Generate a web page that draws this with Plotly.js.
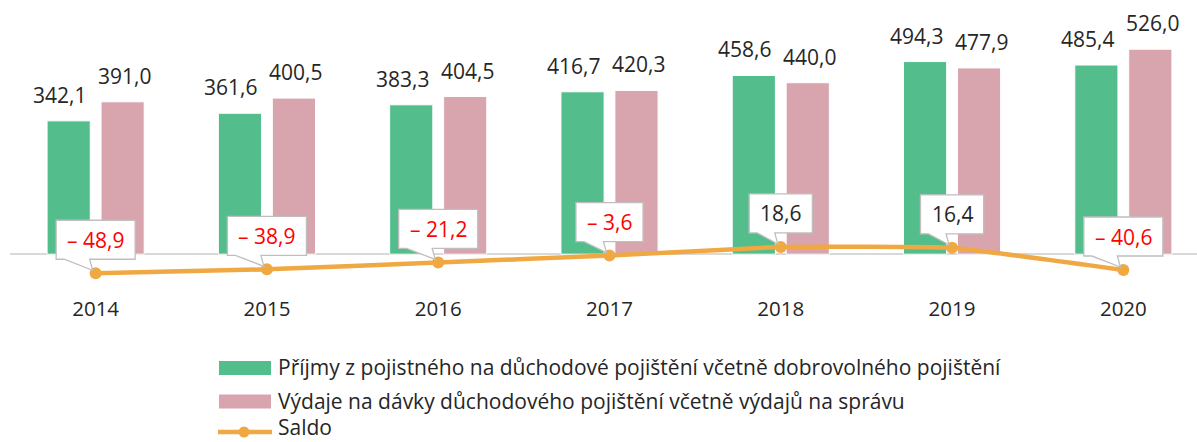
<!DOCTYPE html>
<html>
<head>
<meta charset="utf-8">
<script src="https://cdn.plot.ly/plotly-3.0.1.min.js"></script>
<style>html,body{margin:0;padding:0;background:#fff;overflow:hidden}</style>
</head>
<body>
<div id="chart" style="width:1197px;height:442px"></div>
<script>
const years = ['2014', '2015', '2016', '2017', '2018', '2019', '2020'];
const prijmy = [342.1, 361.6, 383.3, 416.7, 458.6, 494.3, 485.4];
const vydaje = [391.0, 400.5, 404.5, 420.3, 440.0, 477.9, 526.0];
const saldo = [-48.9, -38.9, -21.2, -3.6, 18.6, 16.4, -40.6];
const seriesNames = [
  'Příjmy z pojistného na důchodové pojištění včetně dobrovolného pojištění',
  'Výdaje na dávky důchodového pojištění včetně výdajů na správu',
  'Saldo'
];

const GREEN = '#53BE8B', PINK = '#D8A4AE', ORANGE = '#F0A843', TEXT = '#262626', RED = '#FF0000';
const FONT = 'Open Sans';
const W = 1197, H = 442;
const M = {l: 10, r: 0, t: 10, b: 150};
const xRange = [-0.5, 6.43];
const yRange = [-97, 626.6];
const bargap = 0.37;

const fmt = v => v.toFixed(1).replace('.', ',');
const saldoLabel = v => v < 0 ? '\u2013 ' + fmt(-v) : fmt(v);

const plotW = W - M.l - M.r;
const catPx = plotW / (xRange[1] - xRange[0]);
const slotPx = catPx * (1 - bargap) / 2;

const traces = [
  {type: 'bar', x: years, y: prijmy, name: seriesNames[0], marker: {color: GREEN, line: {color: '#ffffff', width: 1}}, hoverinfo: 'y'},
  {type: 'bar', x: years, y: vydaje, name: seriesNames[1], marker: {color: PINK, line: {color: '#ffffff', width: 1}}, hoverinfo: 'y'},
  {type: 'scatter', mode: 'lines+markers', x: years, y: saldo, name: seriesNames[2],
   line: {color: ORANGE, width: 4.5, shape: 'spline', smoothing: 0.3}, marker: {color: ORANGE, size: 12}}
];

const annotations = [];
const shapes = [];

// bar value labels
[[prijmy, -1, -9], [vydaje, 1, 2]].forEach(([arr, side, nudge]) => {
  arr.forEach((v, i) => {
    annotations.push({x: i, y: v, xref: 'x', yref: 'y', text: fmt(v), showarrow: false,
      yanchor: 'bottom', xanchor: 'center', xshift: side * slotPx / 2 + nudge, yshift: 10,
      font: {family: FONT, size: 21, color: TEXT}});
  });
});

// saldo callouts
const charW = ch => /[0-9]/.test(ch) ? 11.9 : ch === ',' ? 5.5 : ch === ' ' ? 5.4 : 10.4;
saldo.forEach((v, i) => {
  const label = saldoLabel(v);
  const tw = label.split('').reduce((s, c) => s + charW(c), 0);
  const h = (tw + 22) / 2;
  shapes.push({type: 'path', xref: 'x', yref: 'y', xsizemode: 'pixel', ysizemode: 'pixel',
    xanchor: i, yanchor: v, layer: 'above',
    path: `M ${-h},14 L ${-h},53 L ${h},53 L ${h},14 L -6,14 L -3,3 L ${-h + 8},14 Z`,
    fillcolor: '#ffffff', line: {color: '#BFBFBF', width: 1.3}});
  annotations.push({x: i, y: v, xref: 'x', yref: 'y', text: label, showarrow: false,
    xanchor: 'center', yanchor: 'middle', yshift: 33.5,
    font: {family: FONT, size: 21, color: v < 0 ? RED : TEXT}});
});

// custom legend
const legRows = [-76, -109.5, -140];
const legText = [-75, -109, -135];
[[GREEN, 0], [PINK, 1]].forEach(([c, r]) => {
  shapes.push({type: 'rect', xref: 'paper', yref: 'paper', xsizemode: 'pixel', ysizemode: 'pixel',
    xanchor: 0, yanchor: 0, x0: 209, x1: 261, y0: legRows[r] + 7, y1: legRows[r] - 7,
    fillcolor: c, line: {width: 0}});
});
shapes.push({type: 'line', xref: 'paper', yref: 'paper', xsizemode: 'pixel', ysizemode: 'pixel',
  xanchor: 0, yanchor: 0, x0: 208, x1: 262, y0: legRows[2], y1: legRows[2],
  line: {color: ORANGE, width: 4.5}});
shapes.push({type: 'circle', xref: 'paper', yref: 'paper', xsizemode: 'pixel', ysizemode: 'pixel',
  xanchor: 0, yanchor: 0, x0: 228.5, x1: 239.5, y0: legRows[2] + 5.5, y1: legRows[2] - 5.5,
  fillcolor: ORANGE, line: {width: 0}});
seriesNames.forEach((n, r) => {
  annotations.push({xref: 'paper', yref: 'paper', x: 0, y: 0, xanchor: 'left', yanchor: 'middle',
    xshift: 266, yshift: legText[r], text: n, showarrow: false,
    font: {family: FONT, size: 21, color: TEXT}});
});

const layout = {
  width: W, height: H, margin: M,
  paper_bgcolor: '#ffffff', plot_bgcolor: '#ffffff',
  font: {family: FONT, size: 21, color: TEXT},
  barmode: 'group', bargap: bargap, bargroupgap: 0.2,
  showlegend: false,
  xaxis: {type: 'category', range: xRange, showgrid: false, showline: false, zeroline: false,
    ticks: '', tickfont: {family: FONT, size: 20.5, color: TEXT}, ticklabelstandoff: 2, fixedrange: true},
  yaxis: {range: yRange, showgrid: false, showticklabels: false, zeroline: true,
    zerolinecolor: '#D9D9D9', zerolinewidth: 1.5, showline: false, fixedrange: true},
  annotations: annotations, shapes: shapes
};

Plotly.newPlot('chart', traces, layout, {displayModeBar: false, staticPlot: true});
</script>
</body>
</html>
